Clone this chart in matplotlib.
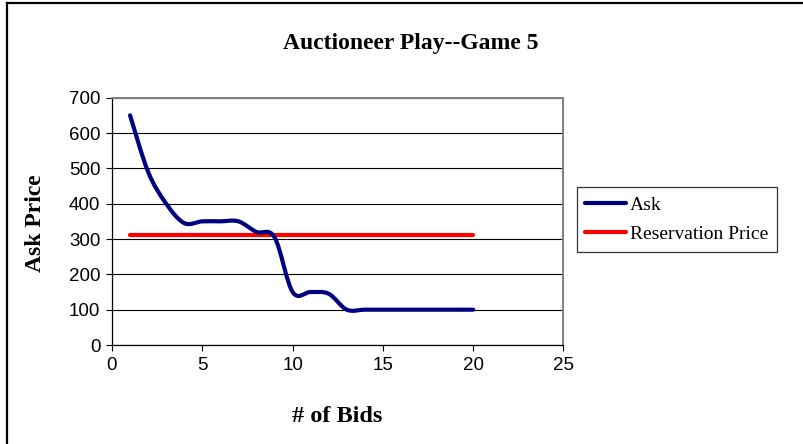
import matplotlib
matplotlib.use('Agg')
import matplotlib.pyplot as plt
from matplotlib.path import Path
from matplotlib.patches import PathPatch
from matplotlib.lines import Line2D

# Auctioneer ask price per bid, game 5
bids = list(range(1, 21))
ask = [650, 490, 400, 345, 350, 350, 350, 320, 305, 150,
       150, 145, 100, 100, 100, 100, 100, 100, 100, 100]
reservation = [310] * len(bids)

x_ticks = [0, 5, 10, 15, 20, 25]
y_ticks = [0, 100, 200, 300, 400, 500, 600, 700]

ASK_COLOR = '#000080'
RES_COLOR = '#ff0000'
SERIF = 'Liberation Serif'
SANS = 'Liberation Sans'


def smooth_path(xs, ys):
    # Catmull-Rom style bezier through every point (like a spreadsheet "smoothed line")
    pts = list(zip(xs, ys))
    n = len(pts)
    verts = [pts[0]]
    codes = [Path.MOVETO]
    for i in range(n - 1):
        p0 = pts[i - 1] if i > 0 else pts[i]
        p1 = pts[i]
        p2 = pts[i + 1]
        p3 = pts[i + 2] if i + 2 < n else pts[i + 1]
        c1 = (p1[0] + (p2[0] - p0[0]) / 6, p1[1] + (p2[1] - p0[1]) / 6)
        c2 = (p2[0] - (p3[0] - p1[0]) / 6, p2[1] - (p3[1] - p1[1]) / 6)
        verts += [c1, c2, p2]
        codes += [Path.CURVE4] * 3
    return Path(verts, codes)


W, H = 804, 444
fig = plt.figure(figsize=(W / 100, H / 100), dpi=100)
fig.patch.set_facecolor('white')

left, right, top, bottom = 112, 563.5, 97.7, 345
ax = fig.add_axes([left / W, 1 - bottom / H, (right - left) / W, (bottom - top) / H])

ax.set_xlim(0, 25)
ax.set_ylim(0, 700)
ax.set_xticks(x_ticks)
ax.set_yticks(y_ticks)
ax.tick_params(axis='both', direction='out', length=4.3, width=0.8, color='black',
               labelsize=13.5, pad=4)
for lab in ax.get_xticklabels() + ax.get_yticklabels():
    lab.set_fontfamily(SANS)

ax.grid(axis='y', color='black', linewidth=0.8)
ax.set_axisbelow(True)
ax.spines['left'].set_color('black')
ax.spines['bottom'].set_color('black')
ax.spines['left'].set_linewidth(0.9)
ax.spines['bottom'].set_linewidth(0.9)
ax.spines['top'].set_color('#808080')
ax.spines['right'].set_color('#808080')
ax.spines['top'].set_linewidth(1.4)
ax.spines['right'].set_linewidth(1.4)

ax.plot(bids, reservation, color=RES_COLOR, linewidth=3, solid_capstyle='round', zorder=3)
ax.add_patch(PathPatch(smooth_path(bids, ask), facecolor='none', edgecolor=ASK_COLOR,
                       linewidth=3, capstyle='round', joinstyle='round', zorder=4))

fig.text(411 / W, 1 - 44 / H, 'Auctioneer Play--Game 5', ha='center', va='center',
         fontsize=17, fontweight='bold', family=SERIF)
fig.text(36 / W, 1 - 223 / H, 'Ask Price', ha='center', va='center', rotation=90,
         fontsize=17, fontweight='bold', family=SERIF)
fig.text(337.5 / W, 1 - 416 / H, '# of Bids', ha='center', va='center',
         fontsize=17.5, fontweight='bold', family=SERIF)

handles = [Line2D([], [], color=ASK_COLOR, linewidth=3, solid_capstyle='round'),
           Line2D([], [], color=RES_COLOR, linewidth=3, solid_capstyle='round')]
leg = fig.legend(handles, ['Ask', 'Reservation Price'], loc='upper left',
                 bbox_to_anchor=(576.7 / W, 1 - 187.3 / H), frameon=True, fancybox=False,
                 prop={'family': SERIF, 'size': 14}, handlelength=2.1, handletextpad=0.2,
                 labelspacing=0.6, borderpad=0.45, borderaxespad=0)
leg.get_frame().set_edgecolor('black')
leg.get_frame().set_linewidth(0.9)

# chart frame (left and top edges)
fig.add_artist(Line2D([7 / W, 7 / W], [0, 1 - 3.5 / H], color='black', linewidth=1.6,
                      transform=fig.transFigure))
fig.add_artist(Line2D([7 / W, 1], [1 - 3.5 / H, 1 - 3.5 / H], color='black', linewidth=1.6,
                      transform=fig.transFigure))

fig.savefig('out.png', dpi=100)
